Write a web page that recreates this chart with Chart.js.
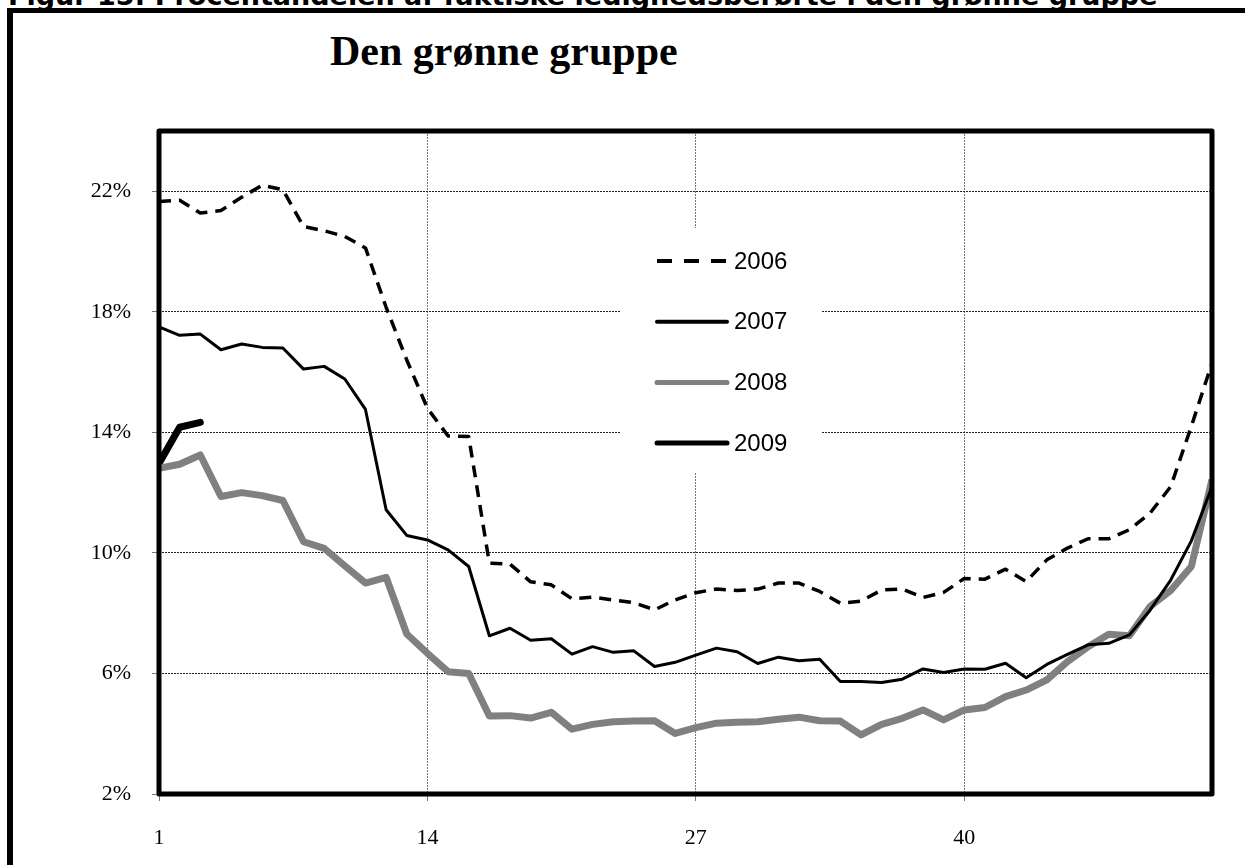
<!DOCTYPE html>
<html>
<head>
<meta charset="utf-8">
<script src="https://cdn.jsdelivr.net/npm/chart.js@4.4.1/dist/chart.umd.min.js"></script>
<style>
  body { margin: 0; background: #fff; overflow: hidden; }
  #wrap { position: relative; width: 1245px; height: 865px; overflow: hidden; }
  #caption { position: absolute; left: 8px; top: -18px; font: bold 27px/27px "DejaVu Sans", sans-serif; white-space: nowrap; }
  #frame { position: absolute; left: 7px; top: 8px; width: 1300px; height: 900px; border-left: 6px solid #000; border-top: 5px solid #000; }
  #title { position: absolute; left: 330px; top: 30px; font: bold 42px/42px "Liberation Serif", serif; white-space: nowrap; }
  canvas { position: absolute; left: 0; top: 0; }
</style>
</head>
<body>
<div id="wrap">
  <div id="caption">Figur 15: Procentandelen af faktiske ledighedsberørte i den grønne gruppe</div>
  <div id="frame"></div>
  <div id="title">Den grønne gruppe</div>
  <canvas id="chart" width="1245" height="865"></canvas>
</div>
<script>
// uger
const weeks = [1, 2, 3, 4, 5, 6, 7, 8, 9, 10, 11, 12, 13, 14, 15, 16, 17, 18, 19, 20, 21, 22, 23, 24, 25, 26,
               27, 28, 29, 30, 31, 32, 33, 34, 35, 36, 37, 38, 39, 40, 41, 42, 43, 44, 45, 46, 47, 48, 49, 50, 51, 52];

// ledighed i procent
const y2006 = [21.66, 21.7, 21.28, 21.36, 21.8, 22.2, 22.05, 20.83, 20.69, 20.5, 20.12, 18.15, 16.4, 14.8, 13.88, 13.86,
               9.66, 9.63, 9.04, 8.94, 8.48, 8.53, 8.44, 8.35, 8.11, 8.44, 8.68, 8.8, 8.75, 8.8, 9.0, 9.0, 8.72, 8.33,
               8.4, 8.77, 8.8, 8.52, 8.69, 9.15, 9.13, 9.46, 9.05, 9.77, 10.16, 10.47, 10.47, 10.77, 11.32, 12.2, 14.2, 16.3];
const y2007 = [17.5, 17.22, 17.26, 16.74, 16.93, 16.82, 16.8, 16.1, 16.19, 15.77, 14.76, 11.43, 10.58, 10.43, 10.1, 9.55,
               7.25, 7.5, 7.1, 7.15, 6.64, 6.89, 6.7, 6.75, 6.23, 6.37, 6.61, 6.84, 6.72, 6.33, 6.54, 6.42, 6.47, 5.73,
               5.73, 5.7, 5.81, 6.15, 6.03, 6.15, 6.14, 6.34, 5.86, 6.3, 6.63, 6.95, 7.0, 7.28, 8.1, 9.1, 10.4, 12.2];
const y2008 = [12.81, 12.94, 13.25, 11.87, 12.0, 11.9, 11.74, 10.37, 10.15, 9.57, 9.0, 9.19, 7.31, 6.67, 6.06, 6.0,
               4.59, 4.6, 4.52, 4.71, 4.15, 4.31, 4.4, 4.42, 4.43, 4.01, 4.2, 4.35, 4.38, 4.4, 4.48, 4.55, 4.43, 4.42,
               3.96, 4.31, 4.51, 4.79, 4.46, 4.79, 4.87, 5.23, 5.45, 5.79, 6.39, 6.89, 7.3, 7.25, 8.22, 8.75, 9.55, 12.43];
const y2009 = [12.97, 14.17, 14.33];

const xTicks = [1, 14, 27, 40];
const yTicks = [2, 6, 10, 14, 18, 22];

// hvid legendeboks inde i plotområdet + tyk ramme
const legendPlugin = {
    id: 'boxLegend',
    beforeDatasetsDraw(chart) {
        const ctx = chart.ctx;
        ctx.save();
        ctx.fillStyle = '#fff';
        ctx.fillRect(620, 228, 202, 244);
        ctx.font = '24px "Liberation Sans", Arial, sans-serif';
        ctx.textBaseline = 'middle';
        chart.data.datasets.forEach((ds, i) => {
            const y = 261 + i * 60.7;
            ctx.beginPath();
            ctx.strokeStyle = ds.borderColor;
            ctx.lineWidth = Math.max(4, Math.min(ds.borderWidth, 5));
            ctx.setLineDash(ds.borderDash ? [15, 12] : []);
            ctx.lineCap = ds.borderDash ? 'butt' : 'round';
            ctx.moveTo(657, y);
            ctx.lineTo(727, y);
            ctx.stroke();
            ctx.fillStyle = '#000';
            ctx.fillText(ds.label, 734, y + 1);
        });
        ctx.restore();
    },
    afterDatasetsDraw(chart) {
        const a = chart.chartArea;
        const ctx = chart.ctx;
        ctx.save();
        ctx.strokeStyle = '#000';
        ctx.lineWidth = 5;
        ctx.lineJoin = 'round';
        ctx.strokeRect(a.left, a.top, a.right - a.left, a.bottom - a.top);
        ctx.restore();
    }
};

new Chart(document.getElementById('chart'), {
    type: 'line',
    data: {
        labels: weeks,
        datasets: [
            { label: '2006', data: y2006, borderColor: '#000', borderWidth: 3.5, borderDash: [12, 8] },
            { label: '2007', data: y2007, borderColor: '#000', borderWidth: 3 },
            { label: '2008', data: y2008, borderColor: '#808080', borderWidth: 7 },
            { label: '2009', data: y2009, borderColor: '#000', borderWidth: 7, borderCapStyle: 'round' }
        ]
    },
    options: {
        responsive: false,
        animation: false,
        devicePixelRatio: 1,
        elements: { point: { radius: 0 }, line: { tension: 0, borderJoinStyle: 'round' } },
        layout: { padding: { left: 0, right: 33, top: 131, bottom: 0 } },
        plugins: { legend: { display: false }, tooltip: { enabled: false } },
        scales: {
            x: {
                type: 'linear',
                min: 1,
                max: 52,
                afterFit: s => { s.height = 71; },
                afterBuildTicks: s => { s.ticks = xTicks.map(v => ({ value: v })); },
                grid: { color: '#777', lineWidth: 1, tickLength: 7, tickColor: '#777' },
                border: { display: false, dash: [2, 1] },
                ticks: { color: '#000', padding: 24, maxRotation: 0, font: { family: '"Liberation Serif", serif', size: 22 } }
            },
            y: {
                min: 2,
                max: 24,
                afterFit: s => { s.width = 159; },
                afterBuildTicks: s => { s.ticks = yTicks.map(v => ({ value: v })); },
                grid: { color: '#222', lineWidth: 1, tickLength: 7, tickColor: '#777' },
                border: { display: false, dash: [2, 1] },
                ticks: { color: '#000', padding: 21, callback: v => v + '%', font: { family: '"Liberation Serif", serif', size: 22 } }
            }
        }
    },
    plugins: [legendPlugin]
});
</script>
</body>
</html>
